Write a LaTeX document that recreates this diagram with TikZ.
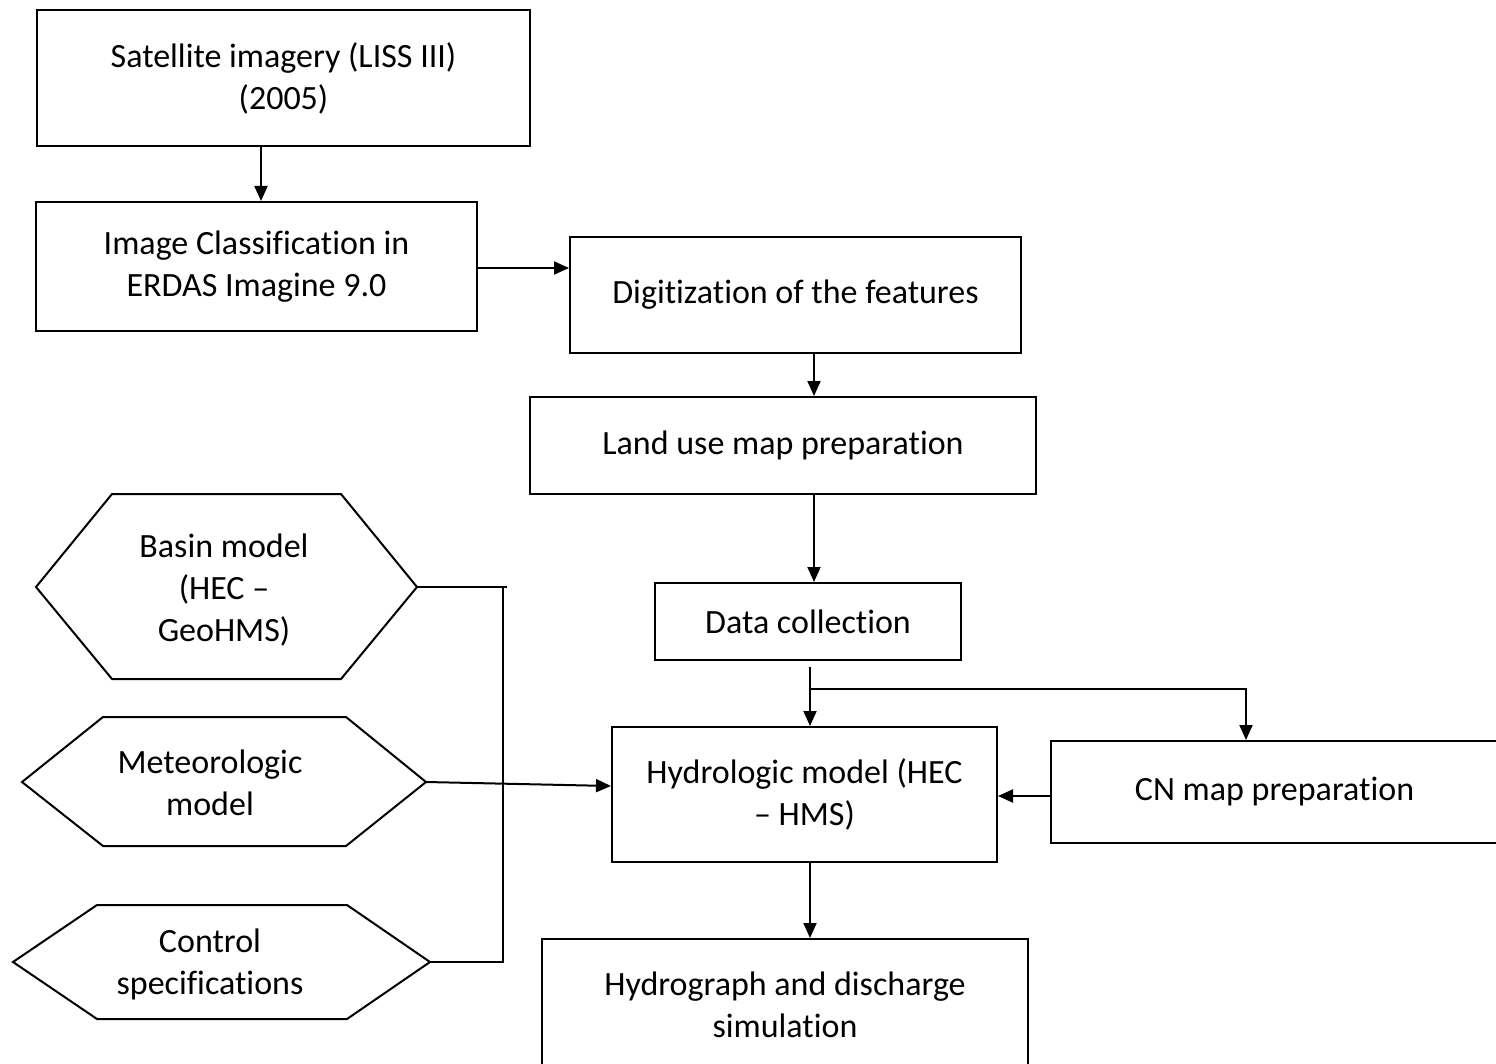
\documentclass[tikz,border=0pt]{standalone}
\usepackage{fontspec}
\setmainfont{Carlito}[Ligatures=NoCommon]
\usetikzlibrary{arrows.meta,calc}
\begin{document}
\begin{tikzpicture}[x=1pt,y=-1pt,
  every node/.style={font=\fontsize{34}{42}\selectfont, align=center, inner sep=0pt},
  box/.style={draw, line width=2pt},
  hexa/.style={draw, line width=2pt, line join=miter},
  arr/.style={line width=2pt, -{Triangle[length=15pt,width=13pt]}},
  ln/.style={line width=2pt}]
\useasboundingbox (0,0) rectangle (1496,1064);
\begin{scope}
\clip (0,0) rectangle (1496,1064);
% boxes
\node[box, minimum width=493, minimum height=136] (sat) at (283.5,78) {Satellite imagery (LISS III)\\(2005)};
\node[box, minimum width=441, minimum height=129] (img) at (256.5,266.5) {Image Classification in\\ERDAS Imagine 9.0};
\node[box, minimum width=451, minimum height=116] (dig) at (795.5,295) {Digitization of the features};
\node[box, minimum width=506, minimum height=97] (land) at (783,445.5) {Land use map preparation};
\node[box, minimum width=306, minimum height=77] (data) at (808,621.5) {Data collection};
\node[box, minimum width=385, minimum height=135] (hydro) at (804.5,794.5) {Hydrologic model (HEC\\– HMS)};
\node[box, minimum width=447, minimum height=102] (cn) at (1274.5,792) {CN map preparation};
\node[box, minimum width=486, minimum height=131] (hgr) at (785,1004.5) {Hydrograph and discharge\\simulation};
% hexagons
\draw[hexa] (36,587) -- (112,494) -- (341,494) -- (417,587) -- (341,679) -- (112,679) -- cycle;
\coordinate (basinR) at (417,587);
\node (basin) at (224,590) {Basin model\\(HEC –\\GeoHMS)};
\draw[hexa] (22,782) -- (103,717) -- (346,717) -- (426,782) -- (346,846) -- (103,846) -- cycle;
\coordinate (meteoR) at (426,782);
\node (meteo) at (210,783) {Meteorologic\\model};
\draw[hexa] (13,962) -- (97,905) -- (347,905) -- (430,962) -- (347,1019) -- (97,1019) -- cycle;
\coordinate (ctrlR) at (430,962);
\node (ctrl) at (210,964) {Control\\specifications};
% connectors
\draw[arr] ([xshift=-22.5]sat.south) -- ([xshift=-22.5]sat.south |- img.north);
\draw[arr] ([yshift=-1.5]img.east) -- ([yshift=-1.5]img.east -| dig.west);
\draw[arr] ([xshift=18.5]dig.south) -- ([xshift=18.5]dig.south |- land.north);
\draw[arr] ([xshift=31]land.south) -- ([xshift=31]land.south |- data.north);
\draw[arr] ([xshift=2,yshift=-6]data.south) -- ([xshift=2]data.south |- hydro.north);
\coordinate (br) at ([xshift=2,yshift=-28]data.south);
\draw[arr] (br) -| ([xshift=-28.5]cn.north);
\draw[arr] ([yshift=-4]cn.west) -- ([yshift=-4]cn.west -| hydro.east);
\draw[arr] ([xshift=5.5]hydro.south) -- ([xshift=5.5]hydro.south |- hgr.north);
\coordinate (bus) at (503,587);
\draw[ln] (basinR) -- ++(90,0);
\draw[ln] (bus) -- (bus |- ctrlR) -- (ctrlR);
\draw[arr] (meteoR) -- ([yshift=8.5]hydro.west);
\end{scope}
\end{tikzpicture}
\end{document}
